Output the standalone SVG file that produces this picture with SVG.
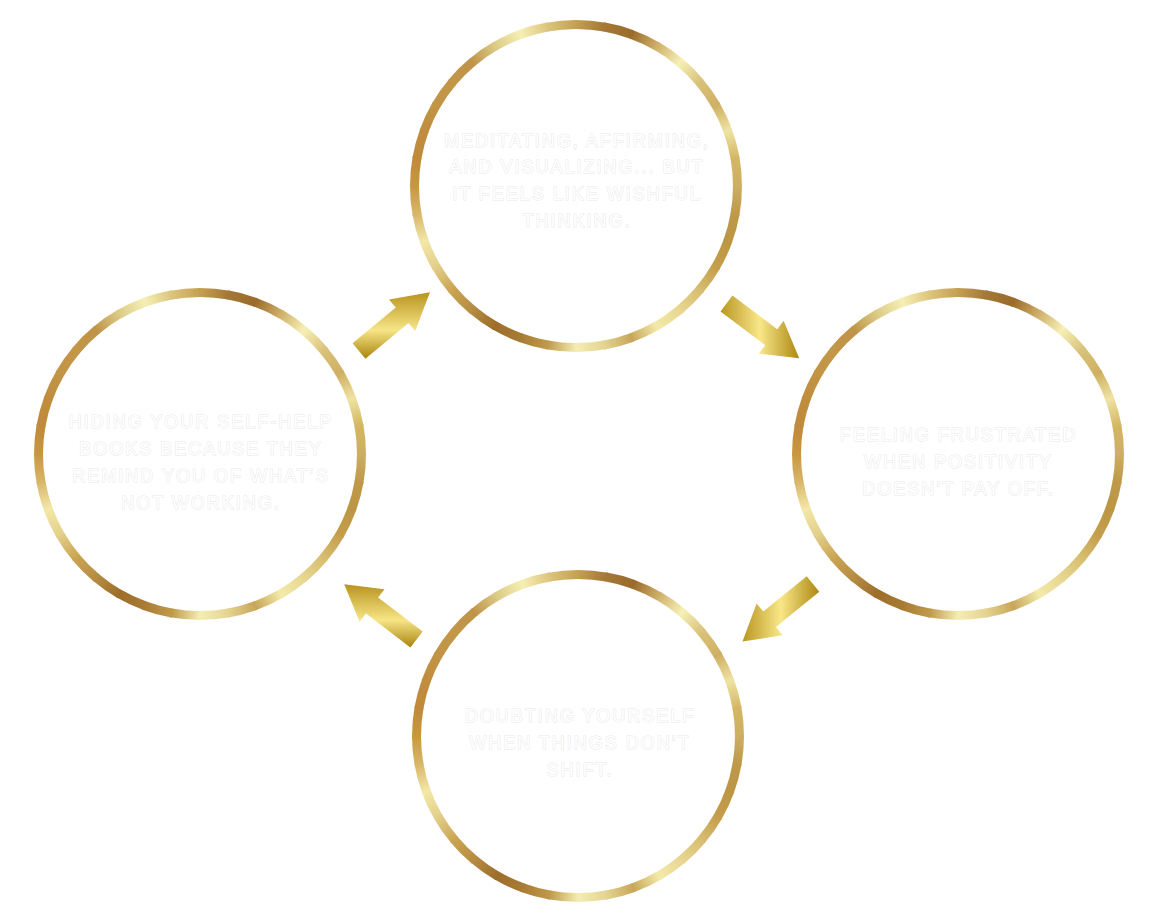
<svg xmlns="http://www.w3.org/2000/svg" xmlns:xlink="http://www.w3.org/1999/xlink" width="1152" height="922" viewBox="0 0 1152 922">
<style>
.lbl{font-family:"Liberation Sans",Arial,sans-serif;font-size:18px;letter-spacing:2px;fill:#ffffff;stroke:#e8e8e8;stroke-width:1px;paint-order:stroke fill;text-anchor:middle}
.seg{fill:none;stroke-width:9}
</style>
<defs>
<linearGradient id="gb" gradientUnits="userSpaceOnUse" x1="161.5" y1="0" x2="159.05" y2="28.04"/>
<linearGradient id="g0" href="#gb"><stop offset="0" stop-color="#cdae63"/><stop offset="1" stop-color="#be9949"/></linearGradient>
<linearGradient id="g1" href="#gb"><stop offset="0" stop-color="#be9949"/><stop offset="1" stop-color="#bc9643"/></linearGradient>
<linearGradient id="g2" href="#gb"><stop offset="0" stop-color="#bc9643"/><stop offset="1" stop-color="#c49e4c"/></linearGradient>
<linearGradient id="g3" href="#gb"><stop offset="0" stop-color="#c49e4c"/><stop offset="1" stop-color="#d7bd70"/></linearGradient>
<linearGradient id="g4" href="#gb"><stop offset="0" stop-color="#d7bd70"/><stop offset="1" stop-color="#e8d690"/></linearGradient>
<linearGradient id="g5" href="#gb"><stop offset="0" stop-color="#e8d690"/><stop offset="1" stop-color="#f3eaaa"/></linearGradient>
<linearGradient id="g6" href="#gb"><stop offset="0" stop-color="#f3eaaa"/><stop offset="1" stop-color="#c8a658"/></linearGradient>
<linearGradient id="g7" href="#gb"><stop offset="0" stop-color="#c8a658"/><stop offset="1" stop-color="#e4d492"/></linearGradient>
<linearGradient id="g8" href="#gb"><stop offset="0" stop-color="#e4d492"/><stop offset="1" stop-color="#f4edb2"/></linearGradient>
<linearGradient id="g9" href="#gb"><stop offset="0" stop-color="#f4edb2"/><stop offset="1" stop-color="#c09a4a"/></linearGradient>
<linearGradient id="g10" href="#gb"><stop offset="0" stop-color="#c09a4a"/><stop offset="1" stop-color="#a87b34"/></linearGradient>
<linearGradient id="g11" href="#gb"><stop offset="0" stop-color="#a87b34"/><stop offset="1" stop-color="#9d6e2b"/></linearGradient>
<linearGradient id="g12" href="#gb"><stop offset="0" stop-color="#9d6e2b"/><stop offset="1" stop-color="#b58c42"/></linearGradient>
<linearGradient id="g13" href="#gb"><stop offset="0" stop-color="#b58c42"/><stop offset="1" stop-color="#cba452"/></linearGradient>
<linearGradient id="g14" href="#gb"><stop offset="0" stop-color="#cba452"/><stop offset="1" stop-color="#e2cf8a"/></linearGradient>
<linearGradient id="g15" href="#gb"><stop offset="0" stop-color="#e2cf8a"/><stop offset="1" stop-color="#f3e8a8"/></linearGradient>
<linearGradient id="g16" href="#gb"><stop offset="0" stop-color="#f3e8a8"/><stop offset="1" stop-color="#d8b66a"/></linearGradient>
<linearGradient id="g17" href="#gb"><stop offset="0" stop-color="#d8b66a"/><stop offset="1" stop-color="#c8973f"/></linearGradient>
<linearGradient id="g18" href="#gb"><stop offset="0" stop-color="#c8973f"/><stop offset="1" stop-color="#c08a3a"/></linearGradient>
<linearGradient id="g19" href="#gb"><stop offset="0" stop-color="#c08a3a"/><stop offset="1" stop-color="#c08d3e"/></linearGradient>
<linearGradient id="g20" href="#gb"><stop offset="0" stop-color="#c08d3e"/><stop offset="1" stop-color="#c29446"/></linearGradient>
<linearGradient id="g21" href="#gb"><stop offset="0" stop-color="#c29446"/><stop offset="1" stop-color="#c39648"/></linearGradient>
<linearGradient id="g22" href="#gb"><stop offset="0" stop-color="#c39648"/><stop offset="1" stop-color="#bf9448"/></linearGradient>
<linearGradient id="g23" href="#gb"><stop offset="0" stop-color="#bf9448"/><stop offset="1" stop-color="#dccb86"/></linearGradient>
<linearGradient id="g24" href="#gb"><stop offset="0" stop-color="#dccb86"/><stop offset="1" stop-color="#f6efb4"/></linearGradient>
<linearGradient id="g25" href="#gb"><stop offset="0" stop-color="#f6efb4"/><stop offset="1" stop-color="#dcc47c"/></linearGradient>
<linearGradient id="g26" href="#gb"><stop offset="0" stop-color="#dcc47c"/><stop offset="1" stop-color="#c4a052"/></linearGradient>
<linearGradient id="g27" href="#gb"><stop offset="0" stop-color="#c4a052"/><stop offset="1" stop-color="#a47836"/></linearGradient>
<linearGradient id="g28" href="#gb"><stop offset="0" stop-color="#a47836"/><stop offset="1" stop-color="#9a6b2a"/></linearGradient>
<linearGradient id="g29" href="#gb"><stop offset="0" stop-color="#9a6b2a"/><stop offset="1" stop-color="#cfb06a"/></linearGradient>
<linearGradient id="g30" href="#gb"><stop offset="0" stop-color="#cfb06a"/><stop offset="1" stop-color="#f6f0b6"/></linearGradient>
<linearGradient id="g31" href="#gb"><stop offset="0" stop-color="#f6f0b6"/><stop offset="1" stop-color="#d9c27a"/></linearGradient>
<linearGradient id="g32" href="#gb"><stop offset="0" stop-color="#d9c27a"/><stop offset="1" stop-color="#cfb062"/></linearGradient>
<linearGradient id="g33" href="#gb"><stop offset="0" stop-color="#cfb062"/><stop offset="1" stop-color="#efe3a4"/></linearGradient>
<linearGradient id="g34" href="#gb"><stop offset="0" stop-color="#efe3a4"/><stop offset="1" stop-color="#d4b762"/></linearGradient>
<linearGradient id="g35" href="#gb"><stop offset="0" stop-color="#d4b762"/><stop offset="1" stop-color="#cdae63"/></linearGradient>
<linearGradient id="aH" x1="0" y1="0" x2="1" y2="0"><stop offset="0" stop-color="#b99622"/><stop offset="0.5" stop-color="#f9e788"/><stop offset="1" stop-color="#ad8712"/></linearGradient>
<linearGradient id="aV" x1="0" y1="0" x2="0" y2="1"><stop offset="0" stop-color="#b8931e"/><stop offset="0.57" stop-color="#f7e586"/><stop offset="1" stop-color="#a9840f"/></linearGradient>
<path id="seg" class="seg" d="M161.498,-0.846 A161.5,161.5 0 0 1 158.90,28.88"/>
<g id="ring">
<use href="#seg" stroke="url(#g0)"/>
<use href="#seg" transform="rotate(10)" stroke="url(#g1)"/>
<use href="#seg" transform="rotate(20)" stroke="url(#g2)"/>
<use href="#seg" transform="rotate(30)" stroke="url(#g3)"/>
<use href="#seg" transform="rotate(40)" stroke="url(#g4)"/>
<use href="#seg" transform="rotate(50)" stroke="url(#g5)"/>
<use href="#seg" transform="rotate(60)" stroke="url(#g6)"/>
<use href="#seg" transform="rotate(70)" stroke="url(#g7)"/>
<use href="#seg" transform="rotate(80)" stroke="url(#g8)"/>
<use href="#seg" transform="rotate(90)" stroke="url(#g9)"/>
<use href="#seg" transform="rotate(100)" stroke="url(#g10)"/>
<use href="#seg" transform="rotate(110)" stroke="url(#g11)"/>
<use href="#seg" transform="rotate(120)" stroke="url(#g12)"/>
<use href="#seg" transform="rotate(130)" stroke="url(#g13)"/>
<use href="#seg" transform="rotate(140)" stroke="url(#g14)"/>
<use href="#seg" transform="rotate(150)" stroke="url(#g15)"/>
<use href="#seg" transform="rotate(160)" stroke="url(#g16)"/>
<use href="#seg" transform="rotate(170)" stroke="url(#g17)"/>
<use href="#seg" transform="rotate(180)" stroke="url(#g18)"/>
<use href="#seg" transform="rotate(190)" stroke="url(#g19)"/>
<use href="#seg" transform="rotate(200)" stroke="url(#g20)"/>
<use href="#seg" transform="rotate(210)" stroke="url(#g21)"/>
<use href="#seg" transform="rotate(220)" stroke="url(#g22)"/>
<use href="#seg" transform="rotate(230)" stroke="url(#g23)"/>
<use href="#seg" transform="rotate(240)" stroke="url(#g24)"/>
<use href="#seg" transform="rotate(250)" stroke="url(#g25)"/>
<use href="#seg" transform="rotate(260)" stroke="url(#g26)"/>
<use href="#seg" transform="rotate(270)" stroke="url(#g27)"/>
<use href="#seg" transform="rotate(280)" stroke="url(#g28)"/>
<use href="#seg" transform="rotate(290)" stroke="url(#g29)"/>
<use href="#seg" transform="rotate(300)" stroke="url(#g30)"/>
<use href="#seg" transform="rotate(310)" stroke="url(#g31)"/>
<use href="#seg" transform="rotate(320)" stroke="url(#g32)"/>
<use href="#seg" transform="rotate(330)" stroke="url(#g33)"/>
<use href="#seg" transform="rotate(340)" stroke="url(#g34)"/>
<use href="#seg" transform="rotate(350)" stroke="url(#g35)"/>
</g>
</defs>
<rect width="1152" height="922" fill="#ffffff"/>

<g id="node-top">
<use href="#ring" transform="translate(576,186)"/>
<text class="lbl" x="577" y="146.5">MEDITATING, AFFIRMING,<tspan x="577" dy="26.8">AND VISUALIZING... BUT</tspan><tspan x="577" dy="26.8">IT FEELS LIKE WISHFUL</tspan><tspan x="577" dy="26.8">THINKING.</tspan></text>
</g>

<g id="node-right">
<use href="#ring" transform="translate(958,454)"/>
<text class="lbl" x="958.5" y="440.5">FEELING FRUSTRATED<tspan x="958.5" dy="27">WHEN POSITIVITY</tspan><tspan x="958.5" dy="27">DOESN’T PAY OFF.</tspan></text>
</g>

<g id="node-bottom">
<use href="#ring" transform="translate(578,736)"/>
<text class="lbl" x="580" y="721.5">DOUBTING YOURSELF<tspan x="580" dy="27">WHEN THINGS DON’T</tspan><tspan x="580" dy="27">SHIFT.</tspan></text>
</g>

<g id="node-left">
<use href="#ring" transform="translate(200,454)"/>
<text class="lbl" x="201" y="428">HIDING YOUR SELF-HELP<tspan x="201" dy="27">BOOKS BECAUSE THEY</tspan><tspan x="201" dy="27">REMIND YOU OF WHAT’S</tspan><tspan x="201" dy="27">NOT WORKING.</tspan></text>
</g>

<g id="connectors">
<polygon id="arrow-left-top" fill="url(#aV)" points="352.6,343.3 395.7,307.5 389.0,299.5 430,292.2 415.2,331.0 408.5,322.9 365.4,358.7"/>
<polygon id="arrow-top-right" fill="url(#aH)" points="732.5,295.5 777.3,329.2 783.6,320.8 799.2,358.3 758.9,353.6 765.2,345.2 720.5,311.5"/>
<polygon id="arrow-right-bottom" fill="url(#aH)" points="819.3,591.8 775.9,627.1 782.6,635.3 742.5,641.5 756.6,603.5 763.3,611.6 806.7,576.3"/>
<polygon id="arrow-bottom-left" fill="url(#aV)" points="410.4,647.4 366.0,613.4 359.6,621.8 344.2,584.2 384.5,589.2 378.1,597.6 422.6,631.6"/>
</g>
</svg>
